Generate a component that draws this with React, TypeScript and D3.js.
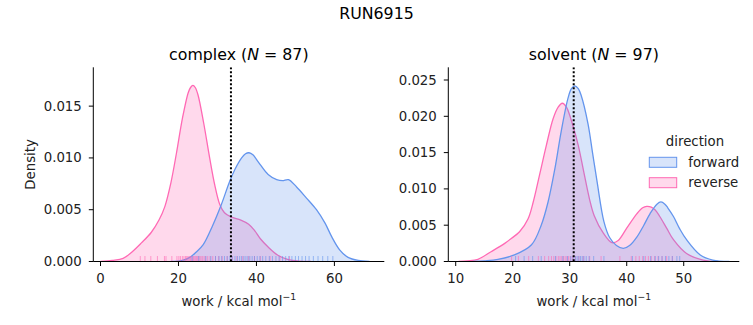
import React from "react";
import * as d3 from "d3";

// ---- data ----
const directions = ["forward", "reverse"];
const colors = ["#6495ED", "#FF69B4"];

// complex panel, KDE curves [work, density]
const complexForwardX = [18, 21, 22.9, 24.5, 26.3, 28.8, 31.0, 33.1, 34.5, 36.2, 37.2, 38.1, 39.1, 40.5, 43.0, 45.2, 46.7, 48.2, 50.3, 52.9, 55.4, 57.6, 59.3, 61.4, 63.5, 66.1, 69];
const complexForwardY = [0, 0.0001, 0.0004, 0.0009, 0.0016, 0.0035, 0.0055, 0.0077, 0.0089, 0.0100, 0.0104, 0.0105, 0.0103, 0.0096, 0.0084, 0.0079, 0.0078, 0.0079, 0.0072, 0.0061, 0.0050, 0.0037, 0.0024, 0.0011, 0.0004, 0.0001, 0];
const complexReverseX = [0, 3, 5.8, 8.0, 10.5, 13.0, 15.0, 16.5, 18.0, 19.5, 21.0, 22.5, 23.1, 23.7, 24.3, 25.0, 26.5, 28.0, 29.3, 30.6, 31.8, 33.5, 36.0, 38.0, 39.5, 41.0, 43.0, 45.5, 48.0, 51, 54];
const complexReverseY = [0, 0.0001, 0.0003, 0.0009, 0.0018, 0.0028, 0.0040, 0.0053, 0.0075, 0.0105, 0.0138, 0.0163, 0.0168, 0.0170, 0.0168, 0.0161, 0.0133, 0.0100, 0.0074, 0.0055, 0.0047, 0.0043, 0.0040, 0.0036, 0.0030, 0.0022, 0.0014, 0.0006, 0.0002, 0.00003, 0];

// solvent panel
const solventForwardX = [13, 15, 17.4, 20.3, 23.3, 25.0, 26.2, 27.4, 28.5, 29.7, 30.3, 30.9, 31.5, 32.0, 33.2, 34.0, 34.8, 36.0, 37.0, 38.2, 39.4, 40.5, 41.8, 43.0, 44.1, 45.3, 46.0, 46.7, 47.2, 48.2, 49.3, 50.5, 52.9, 55.1, 58];
const solventForwardY = [0, 0.0001, 0.0003, 0.0009, 0.0023, 0.0050, 0.0082, 0.0128, 0.0179, 0.0225, 0.0238, 0.0242, 0.0238, 0.0229, 0.0190, 0.0150, 0.0110, 0.0055, 0.0033, 0.0022, 0.0018, 0.0022, 0.0034, 0.0050, 0.0066, 0.0079, 0.0082, 0.0079, 0.0074, 0.0062, 0.0045, 0.0030, 0.0009, 0.0002, 0];
const solventReverseX = [10.5, 12, 13.9, 16.2, 18.6, 19.8, 21.2, 22.7, 23.6, 24.7, 25.9, 27.1, 28.0, 28.7, 29.4, 30.6, 31.5, 32.5, 33.5, 34.3, 35.9, 37.4, 38.5, 40.0, 41.8, 42.8, 43.5, 44.3, 45.0, 45.8, 47.0, 48.2, 50.5, 53.4, 56];
const solventReverseY = [0, 0.0001, 0.0003, 0.00135, 0.0025, 0.0032, 0.0041, 0.0059, 0.0082, 0.0119, 0.0160, 0.0197, 0.0213, 0.0218, 0.0213, 0.0186, 0.0160, 0.0122, 0.0085, 0.0063, 0.0039, 0.0026, 0.0029, 0.0046, 0.0066, 0.0074, 0.0076, 0.0075, 0.0071, 0.0062, 0.0046, 0.0030, 0.0011, 0.0002, 0];

// rug samples
const complexForwardRug = [23.5, 25.2, 27.0, 28.3, 29.5, 30.4, 31.1, 31.8, 32.5, 33.2, 33.8, 34.5, 35.1, 35.7, 36.2, 36.8, 37.3, 37.8, 38.3, 38.9, 39.5, 40.2, 40.9, 41.6, 42.4, 43.3, 44.1, 45.0, 45.8, 46.7, 47.5, 48.3, 49.1, 50.0, 50.8, 51.7, 52.6, 53.5, 54.6, 55.8, 57.0, 58.3, 59.6];
const complexReverseRug = [10.2, 11.4, 12.9, 14.6, 16.4, 16.8, 18.3, 19.6, 20.1, 20.5, 21.0, 21.4, 21.8, 22.1, 22.4, 22.7, 23.0, 23.2, 23.5, 23.8, 24.0, 24.3, 24.6, 24.9, 25.2, 25.5, 25.8, 26.2, 26.6, 27.0, 27.5, 28.1, 28.8, 29.5, 30.3, 31.2, 32.5, 33.8, 35.0, 36.5, 38.0, 39.5, 41.0, 43.5, 46.0, 48.5];
const solventForwardRug = [20.5, 22.0, 23.5, 25.0, 27.5, 28.8, 29.6, 30.2, 30.6, 31.0, 31.3, 31.6, 31.9, 32.2, 32.5, 32.9, 33.4, 34.2, 36.0, 41.0, 43.0, 44.2, 45.0, 45.6, 46.2, 46.8, 47.4, 48.0, 48.8, 49.3];
const solventReverseRug = [19.8, 21.0, 22.8, 24.5, 25.6, 26.3, 26.8, 27.2, 27.6, 28.0, 28.3, 28.6, 28.9, 29.2, 29.5, 29.8, 30.1, 30.5, 31.0, 31.6, 32.4, 33.5, 35.5, 38.8, 40.8, 41.6, 42.2, 42.8, 43.3, 43.8, 44.3, 44.9, 45.5, 46.2, 47.0, 48.0];

const complexXTicks = [0, 20, 40, 60];
const complexYTicks = [0, 0.005, 0.01, 0.015];
const solventXTicks = [10, 20, 30, 40, 50];
const solventYTicks = [0, 0.005, 0.01, 0.015, 0.02, 0.025];

const panels = [
  {
    name: "complex", n: 87, left: 93.3, right: 384.3, xDomain: [-1.85, 72.8], yMax: 0.01875, mean: 33.46,
    xTicks: complexXTicks, yTicks: complexYTicks, showYLabel: true,
    curves: [[complexForwardX, complexForwardY], [complexReverseX, complexReverseY]],
    rugs: [complexForwardRug, complexReverseRug],
  },
  {
    name: "solvent", n: 97, left: 448.3, right: 739.3, xDomain: [8.7, 59.75], yMax: 0.02675, mean: 30.7,
    xTicks: solventXTicks, yTicks: solventYTicks, showYLabel: false,
    curves: [[solventForwardX, solventForwardY], [solventReverseX, solventReverseY]],
    rugs: [solventForwardRug, solventReverseRug],
  },
];

const TOP = 67.3;
const BOTTOM = 261.5;
const FONT = "DejaVu Sans";
const TXT = "#222";

function Panel({ p }: { p: typeof panels[number] }) {
  const x = d3.scaleLinear().domain(p.xDomain).range([p.left, p.right]);
  const y = d3.scaleLinear().domain([0, p.yMax]).range([BOTTOM, TOP]);
  const rugH = 5.5;
  const curve = d3.curveCatmullRom.alpha(0.5);
  const area = d3.area<[number, number]>().x((d) => x(d[0])).y0(BOTTOM).y1((d) => Math.min(BOTTOM, y(d[1]))).curve(curve);
  const line = d3.line<[number, number]>().x((d) => x(d[0])).y((d) => y(d[1])).curve(curve);
  const order = [1, 0]; // reverse drawn first, forward on top
  const cx = (p.left + p.right) / 2;
  return (
    <g>
      <clipPath id={"clip-" + p.name}>
        <rect x={p.left} y={TOP} width={p.right - p.left} height={BOTTOM - TOP} />
      </clipPath>
      <g clipPath={`url(#clip-${p.name})`}>
        {order.map((i) => {
          const pts: [number, number][] = p.curves[i][0].map((v, k) => [v, p.curves[i][1][k]]);
          return (
            <g key={i}>
              <path d={area(pts) || ""} fill={colors[i]} fillOpacity={0.25} stroke="none" />
              <path d={line(pts) || ""} fill="none" stroke={colors[i]} strokeWidth={1.3} />
            </g>
          );
        })}
        {order.map((i) => (
          <g key={"r" + i}>
            {p.rugs[i].map((v, k) => (
              <line key={k} x1={x(v)} x2={x(v)} y1={BOTTOM} y2={BOTTOM - rugH} stroke={colors[i]} strokeOpacity={0.6} strokeWidth={1} />
            ))}
          </g>
        ))}
        <line x1={x(p.mean)} x2={x(p.mean)} y1={TOP} y2={BOTTOM} stroke="black" strokeWidth={2} strokeDasharray="2,2" />
      </g>
      {/* spines */}
      <line x1={p.left} x2={p.left} y1={TOP} y2={BOTTOM} stroke="black" strokeWidth={1} />
      <line x1={p.left} x2={p.right} y1={BOTTOM} y2={BOTTOM} stroke="black" strokeWidth={1} />
      {p.xTicks.map((t) => (
        <g key={t}>
          <line x1={x(t)} x2={x(t)} y1={BOTTOM} y2={BOTTOM + 4.5} stroke="black" strokeWidth={1} />
          <text x={x(t)} y={278} textAnchor="middle" dominantBaseline="central" fontSize={13.3} fontFamily={FONT} fill={TXT}>{t}</text>
        </g>
      ))}
      {p.yTicks.map((t) => (
        <g key={t}>
          <line x1={p.left - 4.5} x2={p.left} y1={y(t)} y2={y(t)} stroke="black" strokeWidth={1} />
          <text x={p.left - 11.5} y={y(t)} textAnchor="end" dominantBaseline="central" fontSize={13.3} fontFamily={FONT} fill={TXT}>{t.toFixed(3)}</text>
        </g>
      ))}
      <text x={cx} y={305.5} textAnchor="middle" fontSize={13.3} fontFamily={FONT} fill={TXT}>
        work / kcal mol<tspan fontSize={9.3} dy={-6}>−1</tspan>
      </text>
      <text x={cx} y={54} textAnchor="middle" dominantBaseline="central" fontSize={15.8} fontFamily={FONT} fill="#000" xmlSpace="preserve">
        {p.name + " ("}<tspan fontStyle="italic">N</tspan>{" = " + p.n + ")"}
      </text>
      {p.showYLabel && (
        <text transform={`translate(30,164.4) rotate(-90)`} textAnchor="middle" dominantBaseline="central" fontSize={13.3} fontFamily={FONT} fill={TXT}>Density</text>
      )}
    </g>
  );
}

export default function App() {
  return (
    <div style={{ position: "absolute", left: 0, top: 0 }}>
      <svg width={753} height={325} style={{ display: "block", background: "white" }}>
        <text x={376.5} y={13} textAnchor="middle" dominantBaseline="central" fontSize={15.8} fontFamily={FONT} fill="#000">RUN6915</text>
        {panels.map((p) => (
          <Panel key={p.name} p={p} />
        ))}
        {/* legend */}
        <text x={695} y={141} textAnchor="middle" dominantBaseline="central" fontSize={13.3} fontFamily={FONT} fill={TXT}>direction</text>
        {directions.map((d, i) => (
          <g key={d}>
            <rect x={649.3} y={157.3 + i * 20.4} width={27.4} height={10} fill={colors[i]} fillOpacity={0.25} stroke={colors[i]} strokeWidth={1} />
            <text x={688.3} y={162.3 + i * 20.4} dominantBaseline="central" fontSize={13.3} fontFamily={FONT} fill={TXT}>{d}</text>
          </g>
        ))}
      </svg>
    </div>
  );
}
